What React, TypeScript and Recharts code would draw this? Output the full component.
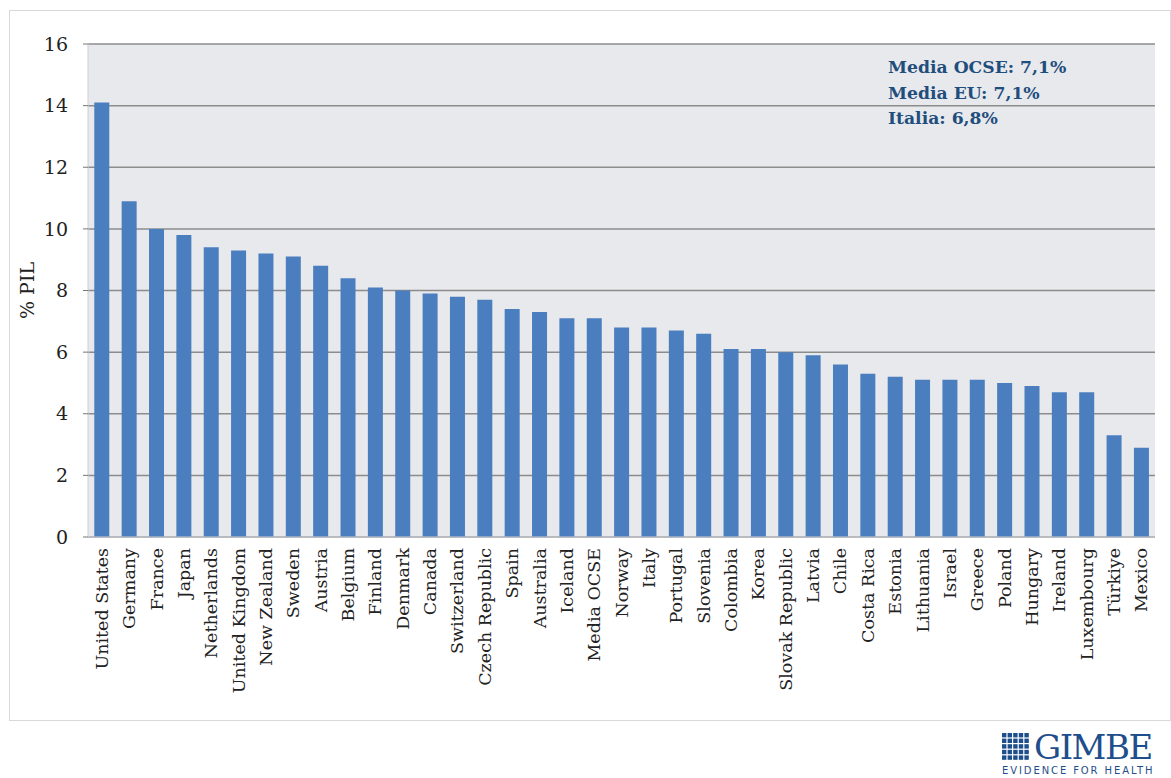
import { BarChart, Bar, XAxis, YAxis, CartesianGrid } from 'recharts';

const countries = [
  'United States', 'Germany', 'France', 'Japan', 'Netherlands', 'United Kingdom',
  'New Zealand', 'Sweden', 'Austria', 'Belgium', 'Finland', 'Denmark', 'Canada',
  'Switzerland', 'Czech Republic', 'Spain', 'Australia', 'Iceland', 'Media OCSE',
  'Norway', 'Italy', 'Portugal', 'Slovenia', 'Colombia', 'Korea', 'Slovak Republic',
  'Latvia', 'Chile', 'Costa Rica', 'Estonia', 'Lithuania', 'Israel', 'Greece',
  'Poland', 'Hungary', 'Ireland', 'Luxembourg', 'Türkiye', 'Mexico',
];

const spending = [
  14.1, 10.9, 10.0, 9.8, 9.4, 9.3, 9.2, 9.1, 8.8, 8.4, 8.1, 8.0, 7.9,
  7.8, 7.7, 7.4, 7.3, 7.1, 7.1, 6.8, 6.8, 6.7, 6.6, 6.1, 6.1, 6.0,
  5.9, 5.6, 5.3, 5.2, 5.1, 5.1, 5.1, 5.0, 4.9, 4.7, 4.7, 3.3, 2.9,
];

const yTicks = [0, 2, 4, 6, 8, 10, 12, 14, 16];

const notes = ['Media OCSE: 7,1%', 'Media EU: 7,1%', 'Italia: 6,8%'];

const serif = '"DejaVu Serif", "Liberation Serif", serif';

const chartData = countries.map((name, i) => ({ name, value: spending[i] }));

function CountryTick(props: any) {
  const { x, y, payload } = props;
  return (
    <g transform={`translate(${x},${y})`}>
      <text
        transform="rotate(-90)"
        textAnchor="end"
        dy="0.35em"
        fill="#222"
        fontSize={17.5}
        fontFamily={serif}
      >
        {payload.value}
      </text>
    </g>
  );
}

function GimbeLogo() {
  const cells = [];
  for (let r = 0; r < 5; r++) {
    for (let c = 0; c < 5; c++) {
      cells.push(
        <rect key={`${r}-${c}`} x={c * 5.6} y={r * 5.6} width={4.4} height={4.4} fill="#1f4e8c" />
      );
    }
  }
  return (
    <div style={{ position: 'absolute', left: 1002, top: 731, width: 160 }}>
      <div style={{ display: 'flex', alignItems: 'center' }}>
        <svg width={28} height={28} style={{ marginRight: 4 }}>{cells}</svg>
        <span
          style={{
            fontFamily: serif,
            fontSize: 34,
            color: '#1f4e8c',
            lineHeight: '32px',
            letterSpacing: -1.5,
          }}
        >
          GIMBE
        </span>
      </div>
      <div
        style={{
          fontFamily: '"DejaVu Sans", sans-serif',
          fontSize: 10,
          color: '#1f4e8c',
          letterSpacing: 1.9,
          marginTop: 2,
          whiteSpace: 'nowrap',
        }}
      >
        EVIDENCE FOR HEALTH
      </div>
    </div>
  );
}

export default function App() {
  return (
    <div
      style={{
        position: 'absolute',
        left: 0,
        top: 0,
        width: 1171,
        height: 778,
        background: '#fff',
      }}
    >
      <div
        style={{
          position: 'absolute',
          left: 9,
          top: 10,
          width: 1160,
          height: 709,
          border: '1px solid #d9d9d9',
        }}
      />
      <div style={{ position: 'absolute', left: 0, top: 0 }}>
        <BarChart
          width={1171}
          height={720}
          data={chartData}
          margin={{ top: 44, right: 16, bottom: 0, left: 0 }}
          barCategoryGap="23%"
        >
          <CartesianGrid
            vertical={false}
            fill="#e8e9ed"
            stroke="#8c8c8c"
            strokeWidth={1.5}
          />
          <XAxis
            dataKey="name"
            interval={0}
            height={183}
            tickLine={false}
            tickSize={0}
            tickMargin={11}
            axisLine={{ stroke: '#cfd0d4' }}
            tick={<CountryTick />}
          />
          <YAxis
            width={88}
            domain={[0, 16]}
            ticks={yTicks}
            tickSize={5}
            tickMargin={15}
            axisLine={{ stroke: '#cfd0d4' }}
            tickLine={{ stroke: '#777' }}
            tick={{ fill: '#222', fontSize: 19, fontFamily: serif }}
            label={{
              value: '% PIL',
              angle: -90,
              position: 'insideLeft',
              dx: 22,
              dy: 0,
              style: { fill: '#222', fontSize: 19, fontFamily: serif, textAnchor: 'middle' },
            }}
          />
          <Bar dataKey="value" fill="#4a7ebf" isAnimationActive={false} />
        </BarChart>
      </div>
      <div
        style={{
          position: 'absolute',
          left: 888,
          top: 55,
          fontFamily: serif,
          fontWeight: 'bold',
          fontSize: 17.2,
          lineHeight: '25.5px',
          color: '#1f4e7d',
          whiteSpace: 'nowrap',
        }}
      >
        {notes.map((n) => (
          <div key={n}>{n}</div>
        ))}
      </div>
      <GimbeLogo />
    </div>
  );
}
